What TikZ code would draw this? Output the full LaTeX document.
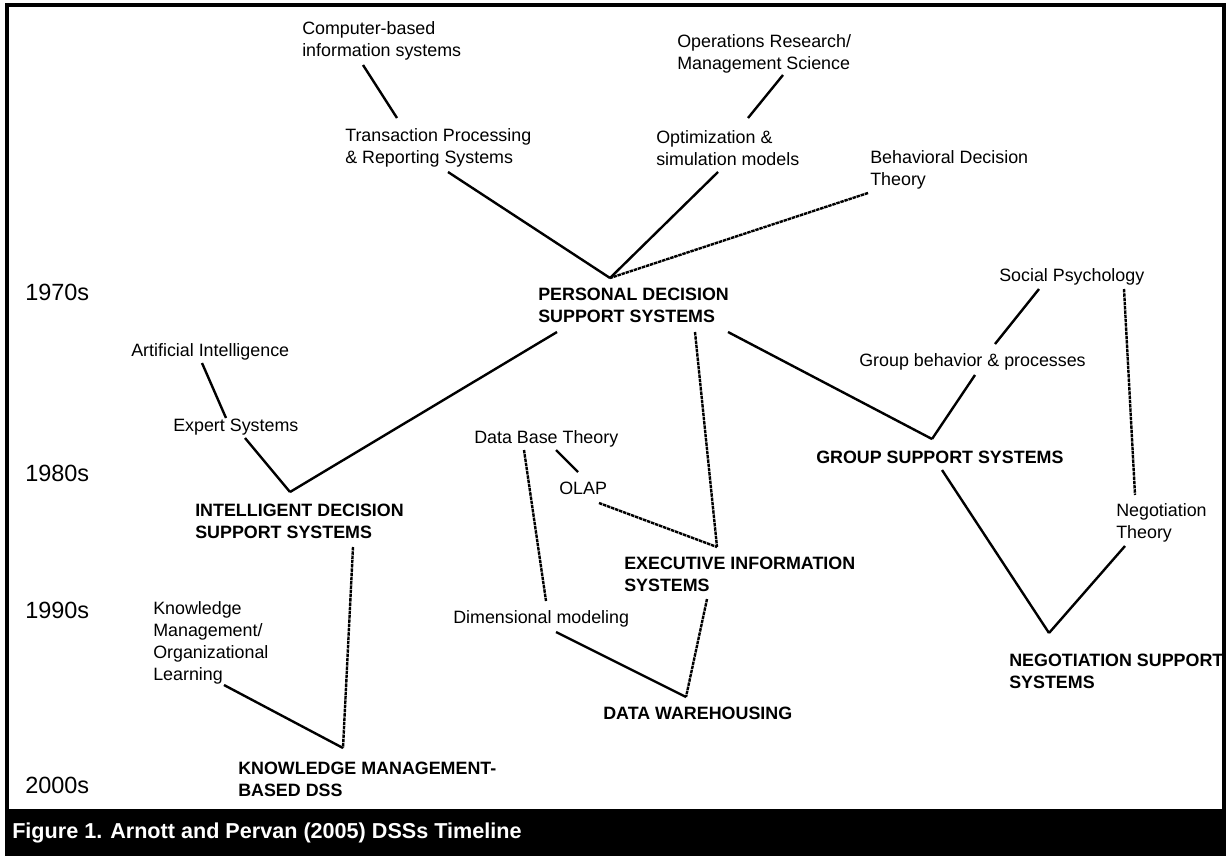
\documentclass[tikz,border=0pt]{standalone}
\usepackage{fontspec}
\setmainfont{Liberation Sans}
\begin{document}
\begin{tikzpicture}[x=0.75pt,y=-0.75pt,
  lbl/.style={anchor=north west, inner sep=0pt, align=left, font=\fontsize{13.4}{16.5}\selectfont},
  blbl/.style={anchor=north west, inner sep=0pt, align=left, font=\fontsize{13.4}{16.5}\selectfont\bfseries},
  yearlbl/.style={anchor=west, inner sep=0pt, font=\fontsize{17.6}{20}\selectfont},
  conn/.style={line width=1.8pt},
  dconn/.style={line width=1.8pt, dash pattern=on 2.6pt off 0.6pt}]
\useasboundingbox (0,0) rectangle (1226,856);
% frame and caption band
\draw[line width=2.4pt] (7,810) -- (7,5) -- (1224,5) -- (1224,810);
\fill[black] (5,809) rectangle (1226,856);
\node[anchor=west, inner sep=0pt, text=white, font=\fontsize{16.2}{19}\selectfont\bfseries] (cap) at (12,833) {Figure 1. Arnott and Pervan (2005) DSSs Timeline};
% years
\node[yearlbl] (y70) at (25,292) {1970s};
\node[yearlbl] (y80) at (25,473) {1980s};
\node[yearlbl] (y90) at (25,610) {1990s};
\node[yearlbl] (y00) at (25,785) {2000s};
% labels
\node[lbl] (cbis) at (302,21.5) {Computer-based\\information systems};
\node[lbl] (tprs) at (345,128.5) {Transaction Processing\\\& Reporting Systems};
\node[lbl] (orms) at (677,34.5) {Operations Research/\\Management Science};
\node[lbl] (opt) at (656,130.5) {Optimization \&\\simulation models};
\node[lbl] (bdt) at (870,150.5) {Behavioral Decision\\Theory};
\node[blbl] (pdss) at (538,288) {PERSONAL DECISION\\SUPPORT SYSTEMS};
\node[lbl] (ai) at (131,343.5) {Artificial Intelligence};
\node[lbl] (es) at (173,418.5) {Expert Systems};
\node[blbl] (idss) at (195,503.5) {INTELLIGENT DECISION\\SUPPORT SYSTEMS};
\node[lbl] (dbt) at (474,430.5) {Data Base Theory};
\node[lbl] (olap) at (559,481.5) {OLAP};
\node[blbl] (eis) at (624,556.5) {EXECUTIVE INFORMATION\\SYSTEMS};
\node[lbl] (dm) at (453,610.5) {Dimensional modeling};
\node[blbl] (dw) at (603,706.5) {DATA WAREHOUSING};
\node[lbl] (kmol) at (153,601.5) {Knowledge\\Management/\\Organizational\\Learning};
\node[blbl] (kmdss) at (238,761.5) {KNOWLEDGE MANAGEMENT-\\BASED DSS};
\node[lbl] (sp) at (999,268.5) {Social Psychology};
\node[lbl] (gbp) at (859,353.5) {Group behavior \& processes};
\node[blbl] (gss) at (816,450.5) {GROUP SUPPORT SYSTEMS};
\node[lbl] (nt) at (1116,503.5) {Negotiation\\Theory};
\node[blbl] (nss) at (1009,653.5) {NEGOTIATION SUPPORT\\SYSTEMS};
% connector end points
\coordinate (cbisB) at (363,65);
\coordinate (tprsT) at (397,118);
\coordinate (tprsB) at (448,172);
\coordinate (pdssJ) at (610,278);
\coordinate (optB) at (718,172);
\coordinate (optT) at (748,118);
\coordinate (ormsB) at (783,75);
\coordinate (bdtB) at (868,193);
\coordinate (pdssBL) at (557,332);
\coordinate (pdssBM) at (695,332);
\coordinate (pdssBR) at (728,332);
\coordinate (idssJ) at (290,492);
\coordinate (aiB) at (202,363);
\coordinate (esT) at (226,418);
\coordinate (esB) at (245,438);
\coordinate (eisJ) at (717,547);
\coordinate (olapB) at (599,503);
\coordinate (olapT) at (578,472);
\coordinate (dbtBR) at (556,450);
\coordinate (dbtBL) at (524,450);
\coordinate (dmT) at (546,601);
\coordinate (dmB) at (556,632);
\coordinate (eisB) at (707,599);
\coordinate (dwJ) at (686,697);
\coordinate (gssJ) at (932,439);
\coordinate (gbpB) at (975,375);
\coordinate (gbpT) at (995,344);
\coordinate (spBL) at (1039,289);
\coordinate (spBR) at (1124,289);
\coordinate (ntT) at (1135,495);
\coordinate (ntB) at (1125,546);
\coordinate (gssB) at (942,470);
\coordinate (nssJ) at (1049,633);
\coordinate (idssB) at (353,547);
\coordinate (kmJ) at (343,748);
\coordinate (kmolB) at (224,685);
% connectors
\draw[conn] (cbisB) -- (tprsT);
\draw[conn] (tprsB) -- (pdssJ);
\draw[conn] (optB) -- (pdssJ);
\draw[conn] (ormsB) -- (optT);
\draw[dconn] (bdtB) -- (pdssJ);
\draw[conn] (pdssBL) -- (idssJ);
\draw[conn] (aiB) -- (esT);
\draw[conn] (esB) -- (idssJ);
\draw[dconn] (pdssBM) -- (eisJ);
\draw[dconn] (olapB) -- (eisJ);
\draw[conn] (dbtBR) -- (olapT);
\draw[dconn] (dbtBL) -- (dmT);
\draw[dconn] (eisB) -- (dwJ);
\draw[conn] (dmB) -- (dwJ);
\draw[conn] (pdssBR) -- (gssJ);
\draw[conn] (gbpB) -- (gssJ);
\draw[conn] (spBL) -- (gbpT);
\draw[dconn] (spBR) -- (ntT);
\draw[conn] (gssB) -- (nssJ);
\draw[conn] (ntB) -- (nssJ);
\draw[dconn] (idssB) -- (kmJ);
\draw[conn] (kmolB) -- (kmJ);
\end{tikzpicture}
\end{document}
